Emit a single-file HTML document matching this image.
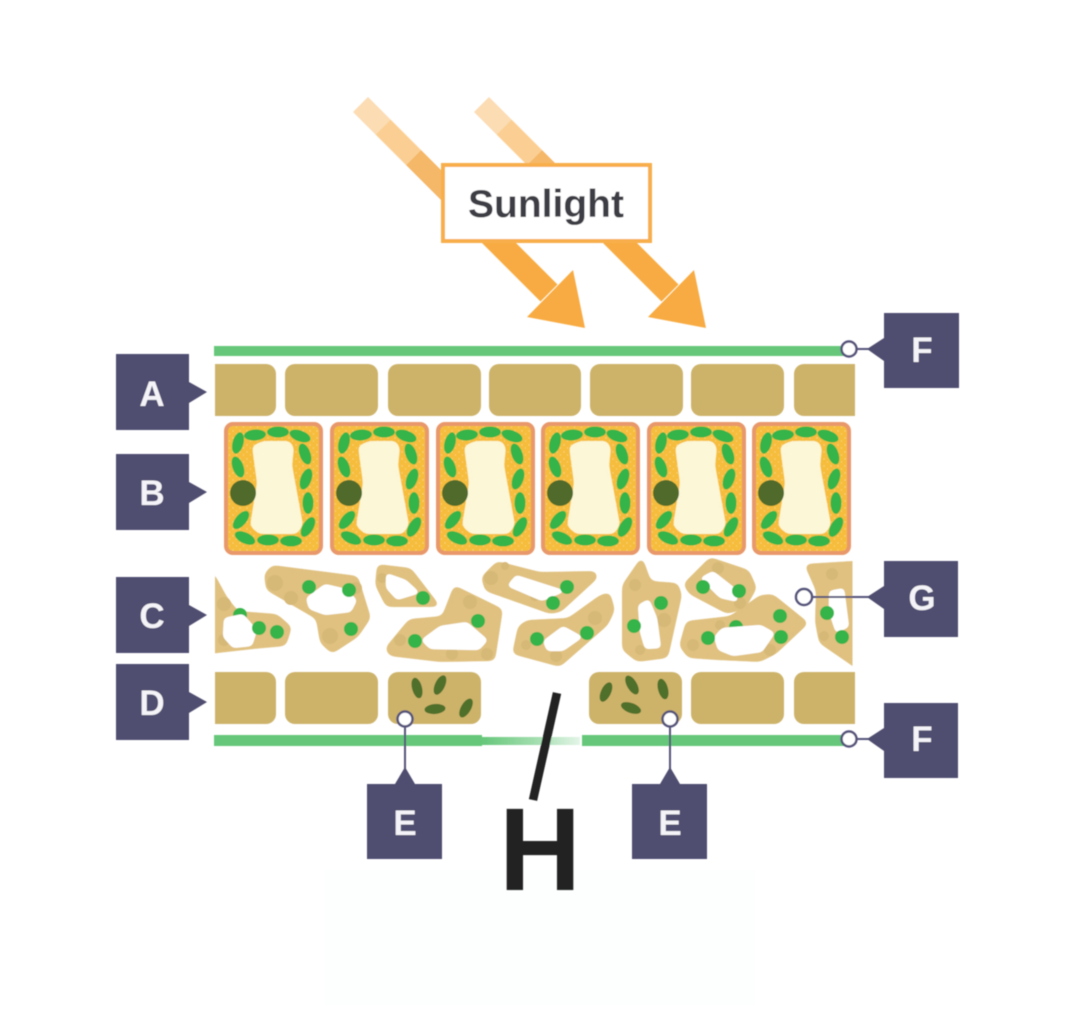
<!DOCTYPE html>
<html>
<head>
<meta charset="utf-8">
<style>
html,body{margin:0;padding:0;background:#fff;width:1080px;height:1020px;overflow:hidden}
svg{display:block}
text{font-family:"Liberation Sans",sans-serif;font-weight:bold}
.lbl{fill:#f4f4f8;font-size:35px;text-anchor:middle}
.box{fill:#4f4d70}
.pin{fill:#fff;stroke:#55537a;stroke-width:2.5}
.ln{stroke:#55537a;stroke-width:2;fill:none}
.t{fill:#cdb36a}
.g{fill:#35b44a}
.b{fill:#d6b877}
.d{fill:#4f6f2a}
.cell{fill:#e0c180;filter:url(#goo)}
.hole{fill:#fff;filter:url(#goo2)}
</style>
</head>
<body>
<svg width="1080" height="1020" viewBox="0 0 1080 1020" xmlns="http://www.w3.org/2000/svg">
<defs>
<filter id="s" x="-2%" y="-2%" width="104%" height="104%"><feGaussianBlur stdDeviation="0.6"/></filter>
<filter id="goo" filterUnits="userSpaceOnUse" x="190" y="540" width="700" height="140" color-interpolation-filters="sRGB">
<feGaussianBlur stdDeviation="3.5"/>
<feComponentTransfer><feFuncA type="linear" slope="12" intercept="-5.5"/></feComponentTransfer>
</filter>
<filter id="goo2" filterUnits="userSpaceOnUse" x="190" y="540" width="700" height="140" color-interpolation-filters="sRGB">
<feGaussianBlur stdDeviation="2.5"/>
<feComponentTransfer><feFuncA type="linear" slope="12" intercept="-5"/></feComponentTransfer>
</filter>
<filter id="goo3" x="-20%" y="-20%" width="140%" height="140%" color-interpolation-filters="sRGB">
<feGaussianBlur stdDeviation="3"/>
<feComponentTransfer><feFuncA type="linear" slope="12" intercept="-5.5"/></feComponentTransfer>
</filter>
<clipPath id="cc"><rect x="215" y="550" width="637.5" height="120"/></clipPath>
<pattern id="dots" width="7" height="7" patternUnits="userSpaceOnUse">
<rect width="7" height="7" fill="#f6bd3e"/>
<circle cx="2" cy="2" r="0.7" fill="#fad77e"/>
<circle cx="5.5" cy="5" r="0.6" fill="#fad77e"/>
</pattern>
<linearGradient id="fade" x1="0" x2="1" y1="0" y2="0">
<stop offset="0" stop-color="#66c77a"/>
<stop offset="0.6" stop-color="#a9e0b4"/>
<stop offset="1" stop-color="#e4f5e8"/>
</linearGradient>
<g id="pal">
<rect x="2" y="2" width="95" height="129" rx="7" fill="url(#dots)" stroke="#e8986a" stroke-width="4"/>
<polygon points="28,24 39,19 66,19 70,26 68,43 79,103 73,112 35,112 26,104 33,61" fill="#fcf7d6" filter="url(#goo3)"/>
<circle cx="19" cy="71" r="13" fill="#4f6a2c"/>
<g class="g">
<ellipse rx="11" ry="5.5" transform="translate(14,21) rotate(-75)"/>
<ellipse rx="11" ry="5.5" transform="translate(31,13) rotate(-5)"/>
<ellipse rx="11" ry="5.5" transform="translate(54,10)"/>
<ellipse rx="11" ry="5.5" transform="translate(76,14) rotate(20)"/>
<ellipse rx="11" ry="5.5" transform="translate(81,32) rotate(70)"/>
<ellipse rx="11" ry="5.5" transform="translate(82,57) rotate(-70)"/>
<ellipse rx="11" ry="5.5" transform="translate(84,81) rotate(90)"/>
<ellipse rx="11" ry="5.5" transform="translate(84,105) rotate(-60)"/>
<ellipse rx="11" ry="5.5" transform="translate(67,119)"/>
<ellipse rx="11" ry="5.5" transform="translate(44,118)"/>
<ellipse rx="11" ry="5.5" transform="translate(21,116) rotate(25)"/>
<ellipse rx="11" ry="5.5" transform="translate(17,98) rotate(-50)"/>
<ellipse rx="11" ry="5.5" transform="translate(14,45) rotate(70)"/>
</g>
</g>
<g id="arrow">
<polygon points="353,112 368,97 390.5,119.5 375.5,134.5" fill="#fcdcb3"/>
<polygon points="375.5,134.5 390.5,119.5 421,150 406,165" fill="#fbcf93"/>
<polygon points="406,165 421,150 465.5,194.5 450.5,209.5" fill="#f5b768"/>
<polygon points="469.5,230.5 486.5,213.5 557.5,284.5 540.5,301.5" fill="#f8ab42"/>
<polygon points="527,317 573,270 585,328" fill="#f8ab42"/>
</g>
</defs>

<rect x="325" y="870" width="430" height="135" fill="#fdfefe"/>

<g filter="url(#s)">
<!-- sunlight arrows -->
<use href="#arrow"/>
<use href="#arrow" x="121"/>
<rect x="443" y="165" width="207" height="76" fill="#fff" stroke="#f8ae4c" stroke-width="4"/>
<text x="546" y="217" font-size="39" fill="#3d3d44" text-anchor="middle">Sunlight</text>

<!-- upper cuticle -->
<rect x="214" y="346" width="636" height="10" fill="#66c77a"/>

<!-- upper epidermis -->
<path class="t" d="M215 364H266a10 10 0 0 1 10 10V406a10 10 0 0 1-10 10H215Z"/>
<rect class="t" x="285" y="364" width="93" height="52" rx="10"/>
<rect class="t" x="388" y="364" width="93" height="52" rx="10"/>
<rect class="t" x="489" y="364" width="92" height="52" rx="10"/>
<rect class="t" x="590" y="364" width="93" height="52" rx="10"/>
<rect class="t" x="691" y="364" width="93" height="52" rx="10"/>
<path class="t" d="M855 364H804a10 10 0 0 0-10 10V406a10 10 0 0 0 10 10H855Z"/>

<!-- palisade -->
<use href="#pal" x="224" y="422"/>
<use href="#pal" x="330" y="422"/>
<use href="#pal" x="436" y="422"/>
<use href="#pal" x="541" y="422"/>
<use href="#pal" x="647" y="422"/>
<use href="#pal" x="752" y="422"/>

<!-- spongy mesophyll -->
<g clip-path="url(#cc)">
<polygon class="cell" points="200,565 215,575 227,597 238,611 277,614 292,627 286,646 253,649 200,655"/>
<polygon class="cell" points="272,565 358,576 371,618 358,637 332,654 320,643 316,619 266,590 264,574"/>
<polygon class="cell" points="377,564 411,568 441,607 386,607 375,585"/>
<polygon class="cell" points="385,648 409,619 442,616 454,585 503,609 495,661 440,662 389,656"/>
<polygon class="cell" points="481,577 497,561 540,572 596,571 598,578 561,612 550,614 485,591"/>
<polygon class="cell" points="512,654 518,626 527,620 568,618 600,595 610,592 615,610 608,625 560,667"/>
<polygon class="cell" points="622,585 642,556 651,581 678,583 682,595 668,658 637,662 622,650"/>
<polygon class="cell" points="683,584 710,557 749,570 757,588 745,609 727,614 689,594"/>
<polygon class="cell" points="679,646 686,621 730,616 760,595 773,594 809,623 776,654 760,662 717,660 688,658"/>
<polygon class="cell" points="804,564 870,560 870,678 819,643 815,622 816,591"/>
<g class="b">
<circle cx="224" cy="604" r="7"/><circle cx="224" cy="640" r="6"/>
<circle cx="275" cy="583" r="8"/><circle cx="330" cy="636" r="8"/><circle cx="291" cy="598" r="7"/><circle cx="356" cy="588" r="6"/>
<circle cx="382" cy="578" r="5"/>
<circle cx="470" cy="602" r="7"/><circle cx="452" cy="654" r="6"/><circle cx="487" cy="654" r="6"/><circle cx="400" cy="640" r="6"/>
<circle cx="491" cy="578" r="7"/><circle cx="505" cy="566" r="4"/><circle cx="535" cy="596" r="5"/>
<circle cx="595" cy="618" r="7"/><circle cx="556" cy="656" r="6"/><circle cx="526" cy="645" r="5"/>
<circle cx="635" cy="585" r="6"/><circle cx="664" cy="620" r="7"/><circle cx="640" cy="650" r="5"/>
<circle cx="718" cy="568" r="6"/><circle cx="740" cy="603" r="6"/>
<circle cx="693" cy="645" r="6"/><circle cx="770" cy="650" r="6"/><circle cx="720" cy="625" r="5"/>
<circle cx="832" cy="574" r="6"/><circle cx="824" cy="636" r="5"/>
</g>
<g class="g">
<circle cx="240" cy="615" r="7"/>
<circle cx="736" cy="627" r="7"/>
</g>
<polygon class="hole" points="224,618 243,614 257,630 252,646 233,648 223,637"/>
<polygon class="hole" points="306,598 325,584 346,589 357,600 351,612 325,615 309,609"/>
<polygon class="hole" points="386,573 406,580 420,593 397,600 386,588"/>
<polygon class="hole" points="421,640 440,626 467,622 488,640 479,650 430,649"/>
<polygon class="hole" points="507,586 516,575 566,591 542,601"/>
<polygon class="hole" points="543,641 563,626 583,637 563,651 547,651"/>
<polygon class="hole" points="638,605 649,599 657,618 661,648 645,649 640,632"/>
<polygon class="hole" points="700,578 713,571 736,589 738,602 720,598"/>
<polygon class="hole" points="714,637 722,628 761,625 775,633 762,652 733,656 718,650"/>
<polygon class="hole" points="829,591 844,588 849,627 836,633 829,612"/>
<g class="g">
<circle cx="259" cy="628" r="7"/><circle cx="277" cy="632" r="7"/>
<circle cx="309" cy="587" r="7"/><circle cx="349" cy="590" r="7"/><circle cx="351" cy="629" r="7"/>
<circle cx="423" cy="598" r="7"/>
<circle cx="478" cy="621" r="7"/><circle cx="415" cy="641" r="7"/>
<circle cx="567" cy="587" r="7"/><circle cx="553" cy="603" r="7"/>
<circle cx="537" cy="639" r="7"/><circle cx="587" cy="633" r="7"/>
<circle cx="661" cy="603" r="7"/><circle cx="634" cy="626" r="7"/>
<circle cx="703" cy="587" r="7"/><circle cx="739" cy="591" r="7"/>
<circle cx="708" cy="638" r="7"/><circle cx="780" cy="616" r="7"/><circle cx="781" cy="637" r="7"/>
<circle cx="827" cy="613" r="7"/><circle cx="842" cy="637" r="7"/>
</g>
</g>

<!-- lower epidermis -->
<path class="t" d="M215 672H266a10 10 0 0 1 10 10V714a10 10 0 0 1-10 10H215Z"/>
<rect class="t" x="285" y="672" width="93" height="52" rx="10"/>
<rect class="t" x="388" y="672" width="93" height="52" rx="10"/>
<rect class="t" x="589" y="672" width="93" height="52" rx="10"/>
<rect class="t" x="691" y="672" width="93" height="52" rx="10"/>
<path class="t" d="M855 672H804a10 10 0 0 0-10 10V714a10 10 0 0 0 10 10H855Z"/>
<g class="d">
<ellipse rx="10.5" ry="5" transform="translate(417,688) rotate(75)"/>
<ellipse rx="10.5" ry="5" transform="translate(440,685) rotate(-65)"/>
<ellipse rx="10.5" ry="5" transform="translate(435,709) rotate(-5)"/>
<ellipse rx="10.5" ry="5" transform="translate(466,708) rotate(-60)"/>
<ellipse rx="10.5" ry="5" transform="translate(606,692) rotate(-65)"/>
<ellipse rx="10.5" ry="5" transform="translate(632,685) rotate(60)"/>
<ellipse rx="10.5" ry="5" transform="translate(663,689) rotate(75)"/>
<ellipse rx="10.5" ry="5" transform="translate(631,708) rotate(20)"/>
</g>

<!-- lower cuticle -->
<rect x="214" y="735" width="268" height="11" fill="#66c77a"/>
<rect x="482" y="737" width="98" height="8" fill="url(#fade)"/>
<rect x="582" y="735" width="268" height="11" fill="#66c77a"/>

<!-- leader lines -->
<line class="ln" x1="405" y1="719" x2="405" y2="775"/>
<line class="ln" x1="670" y1="719" x2="670" y2="775"/>
<line class="ln" x1="804" y1="597" x2="875" y2="597"/>
<line class="ln" x1="849" y1="349" x2="875" y2="349"/>
<line class="ln" x1="849" y1="739" x2="875" y2="739"/>

<!-- labels left -->
<path class="box" d="M116 354H189V382L207 392L189 403V430H116Z"/>
<path class="box" d="M116 454H189V482L207 492L189 503V530H116Z"/>
<path class="box" d="M116 577H189V605L207 615L189 626V653H116Z"/>
<path class="box" d="M116 664H189V692L207 702L189 713V740H116Z"/>
<!-- labels right -->
<path class="box" d="M884 313H959V388H884V361L867 349L884 338Z"/>
<path class="box" d="M884 703H958V778H884V751L867 739L884 728Z"/>
<path class="box" d="M884 561H958V637H884V609L867 597L884 586Z"/>
<!-- labels bottom -->
<path class="box" d="M367 784H395L405 767L415 784H442V859H367Z"/>
<path class="box" d="M632 784H660L670 767L680 784H707V859H632Z"/>

<text class="lbl" x="152" y="406">A</text>
<text class="lbl" x="152" y="505">B</text>
<text class="lbl" x="152" y="628">C</text>
<text class="lbl" x="152" y="715">D</text>
<text class="lbl" x="922" y="362">F</text>
<text class="lbl" x="922" y="751">F</text>
<text class="lbl" x="922" y="610">G</text>
<text class="lbl" x="405" y="835">E</text>
<text class="lbl" x="670" y="835">E</text>

<circle class="pin" cx="849" cy="349" r="7.5"/>
<circle class="pin" cx="849" cy="739" r="7.5"/>
<circle class="pin" cx="804" cy="597" r="8"/>
<circle class="pin" cx="405" cy="719" r="7.5"/>
<circle class="pin" cx="670" cy="719" r="7.5"/>

<!-- H marker -->
<line x1="557" y1="693" x2="533" y2="800" stroke="#222" stroke-width="8.5"/>
<text transform="translate(540,890) scale(0.96,1)" font-size="118" fill="#222" text-anchor="middle">H</text>
</g>
</svg>
</body>
</html>
